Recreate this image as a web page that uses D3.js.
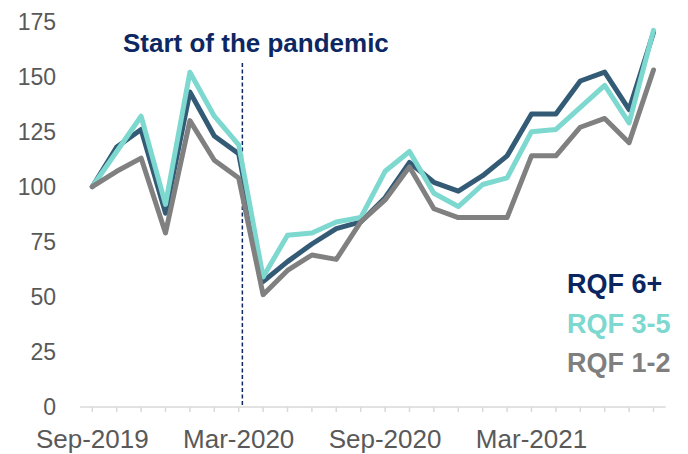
<!DOCTYPE html>
<html>
<head>
<meta charset="utf-8">
<script src="https://cdn.jsdelivr.net/npm/d3@7"></script>
<style>
  body { margin: 0; background: #fff; }
  svg text { font-family: "Liberation Sans", Arial, sans-serif; }
</style>
</head>
<body>
<svg id="chart"></svg>
<script>
// ---- data (index 100 = Sep-2019) ----
const months = ["Sep-2019","Oct-2019","Nov-2019","Dec-2019","Jan-2020","Feb-2020","Mar-2020","Apr-2020",
  "May-2020","Jun-2020","Jul-2020","Aug-2020","Sep-2020","Oct-2020","Nov-2020","Dec-2020",
  "Jan-2021","Feb-2021","Mar-2021","Apr-2021","May-2021","Jun-2021","Jul-2021","Aug-2021"];
const rqf6  = [100,118,126,88,143,123,115,57,66,74,81,84,95,111,102,98,105,114,133,133,148,152,135,170];
const rqf35 = [100,116,132,92,152,132,119,59,78,79,84,86,107,116,97,91,101,104,125,126,136,146,129,171];
const rqf12 = [100,107,113,79,130,112,104,51,62,69,67,84,94,109,90,86,86,86,114,114,127,131,120,153];
const yTicks = [0,25,50,75,100,125,150,175];
const xLabels = ["Sep-2019","Mar-2020","Sep-2020","Mar-2021"];
const pandemicAt = 6.15; // month index of the marker line

const width = 688, height = 454;
const svg = d3.select("#chart").attr("width", width).attr("height", height);

const x = d3.scalePoint().domain(months).range([92.3, 653.5]);
const y = d3.scaleLinear().domain([0, 175]).range([407, 21.5]);
const step = x.step();

/* ---------- axes ---------- */
const xAxis = svg.append("g").attr("transform", "translate(0,407)");
xAxis.append("line")
  .attr("x1", x(months[0]) - step / 2).attr("x2", x(months[months.length - 1]) + step / 2)
  .attr("stroke", "#d9d9d9").attr("stroke-width", 1.5);
xAxis.selectAll(".tick").data(months).enter().append("line")
  .attr("x1", d => x(d)).attr("x2", d => x(d))
  .attr("y1", 0).attr("y2", 5)
  .attr("stroke", "#d9d9d9").attr("stroke-width", 1.5);
xAxis.selectAll(".lbl").data(xLabels).enter().append("text")
  .attr("x", d => x(d)).attr("y", 41)
  .attr("text-anchor", "middle")
  .attr("font-size", 26).attr("fill", "#595959")
  .text(d => d);

svg.append("g").selectAll("text").data(yTicks).enter().append("text")
  .attr("x", 56).attr("y", d => y(d) + 8)
  .attr("text-anchor", "end")
  .attr("font-size", 23).attr("fill", "#595959")
  .text(d => d);

/* ---------- pandemic marker ---------- */
const px = x(months[0]) + pandemicAt * step;
svg.append("line")
  .attr("x1", px).attr("x2", px).attr("y1", 63).attr("y2", 407)
  .attr("stroke", "#0d2763").attr("stroke-width", 1.5)
  .attr("stroke-dasharray", "4,2.5");
svg.append("text")
  .attr("x", 123).attr("y", 52)
  .attr("font-size", 26).attr("font-weight", "bold").attr("fill", "#0d2763")
  .text("Start of the pandemic");

/* ---------- lines ---------- */
const line = d3.line().x((d, i) => x(months[i])).y(d => y(d));
const series = [
  { values: rqf6,  color: "#345b76" },
  { values: rqf35, color: "#7dd8cf" },
  { values: rqf12, color: "#808080" }
];
svg.selectAll(".series").data(series).enter().append("path")
  .attr("d", d => line(d.values))
  .attr("fill", "none")
  .attr("stroke", d => d.color)
  .attr("stroke-width", 5)
  .attr("stroke-linejoin", "round")
  .attr("stroke-linecap", "round");

/* ---------- legend ---------- */
const legend = [
  { name: "RQF 6+",  color: "#0b2560" },
  { name: "RQF 3-5", color: "#7dd8cf" },
  { name: "RQF 1-2", color: "#7f7f7f" }
];
svg.selectAll(".leg").data(legend).enter().append("text")
  .attr("x", 567).attr("y", (d, i) => 293 + i * 39.5)
  .attr("font-family", "Lato, 'Open Sans', sans-serif")
  .attr("font-size", 27).attr("font-weight", "bold")
  .attr("fill", d => d.color)
  .text(d => d.name);
</script>
</body>
</html>
